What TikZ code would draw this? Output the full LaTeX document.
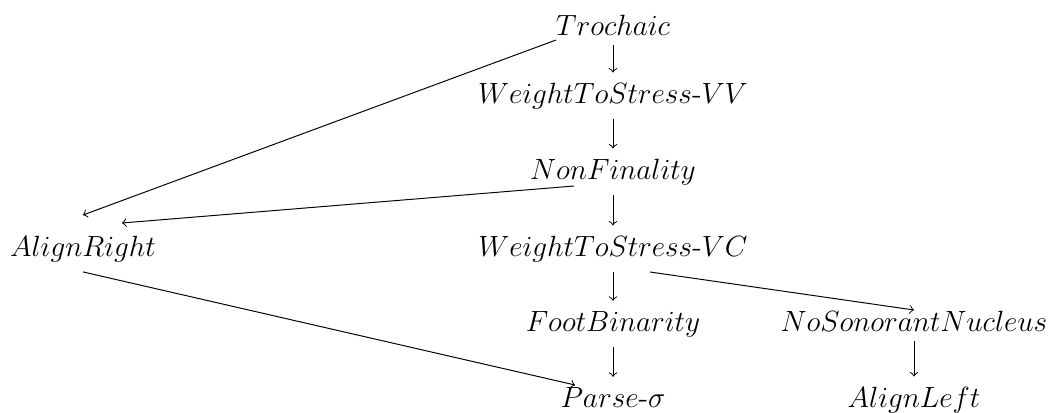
\documentclass[12pt,tikz,border=0pt]{standalone}
\usepackage{tikz}

\begin{document}
\begin{tikzpicture}[x=0.41pt, y=-0.41pt, rank/.style={anchor=base}]
    	% Nodes, then arrows:
    	\useasboundingbox (0, 0) rectangle (1049, 413);
    	\node[rank] (troch) at (613, 35){$Trochaic$};
    	\node[rank] (wvv) at (613, 103){$WeightToStress$-$VV$};
    	\node[rank] (nonfin) at (613, 179){$NonFinality$};
    	\node[rank] (alignr) at (83, 256){$AlignRight$};
    	\node[rank] (wvc) at (613, 256){$WeightToStress$-$VC$};
    	\node[rank] (footbin) at (613, 331){$FootBinarity$};
    	\node[rank] (nsn) at (914, 331){$NoSonorantNucleus$};
    	\node[rank] (parse) at (613, 407){$Parse$-$\sigma$};
    	\node[rank] (alignl) at (914, 407){$AlignLeft$};
    	\draw[->] (troch) -- (wvv);
    	\draw[->] (wvv) -- (nonfin);
    	\draw[->] (nonfin) -- (wvc);
    	\draw[->] (wvc) -- (footbin);
    	\draw[->] (footbin) -- (parse);
    	\draw[->] (nsn) -- (alignl);
    	\draw[->] ([shift={(-57, 5)}]troch.base) -- ([shift={(0, -41)}]alignr.base);
    	\draw[->] ([shift={(-39, 7)}]nonfin.base) -- ([shift={(39, -33)}]alignr.base);
    	\draw[->] (alignr.south) -- ([shift={(-38, -22)}]parse.base);
    	\draw[->] ([shift={(37, 16)}]wvc.base) -- ([shift={(0, -21)}]nsn.base);
    \end{tikzpicture}
\end{document}
